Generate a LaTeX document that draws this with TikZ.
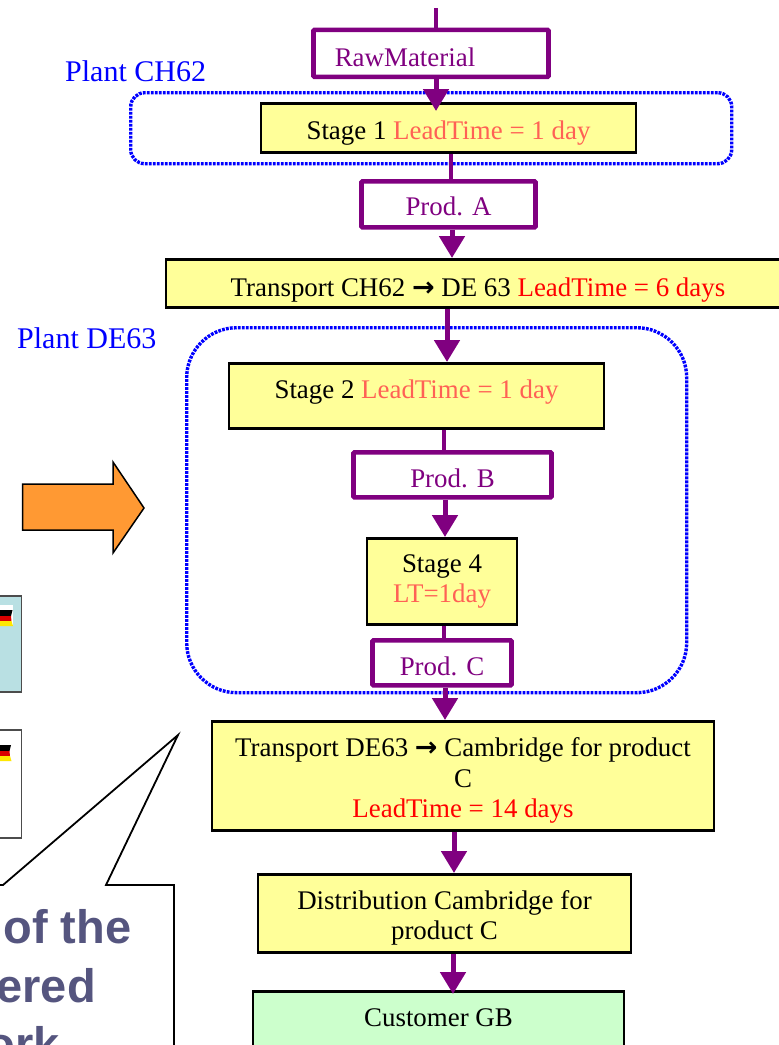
\documentclass[tikz,border=0pt]{standalone}
\usepackage{fontspec}
\setmainfont{Liberation Serif}
\newfontfamily\calloutfont{Liberation Sans}
\newfontfamily\arrowfont{DejaVu Sans}
\usepackage[svgnames]{xcolor}
\usetikzlibrary{positioning, arrows.meta, calc}

\definecolor{stageyellow}{HTML}{FFFF99}
\definecolor{customergreen}{HTML}{CCFFCC}
\definecolor{flowpurple}{HTML}{800080}
\definecolor{leadsalmon}{HTML}{FF6155}
\definecolor{arroworange}{HTML}{FF9933}
\definecolor{panelblue}{HTML}{B9E0E3}
\definecolor{calloutgray}{HTML}{55557F}

\newcommand{\toarrow}{{\arrowfont\bfseries\fontsize{27}{27}\selectfont\raisebox{0.5pt}{→}}}

\tikzset{
    basebox/.style={anchor=north, inner xsep=0pt, inner ysep=0pt, font=\fontsize{26.9}{30.5}\selectfont},
    stagebox/.style={basebox, draw=black, fill=stageyellow, line width=2.6pt},
    prodbox/.style={basebox, draw=flowpurple, fill=white, line width=4.6pt, rounded corners=1pt, text=flowpurple},
    plantbox/.style={draw=blue, line width=3.4pt, dash pattern=on 2.8pt off 1.2pt},
    plantlabel/.style={text=blue, font=\fontsize{30}{34}\selectfont, inner sep=0pt},
    sidebox/.style={draw=black!70, line width=1.5pt, anchor=north east},
    flow/.style={draw=flowpurple, line width=5pt, -{Triangle[length=22pt,width=25pt]}},
    link/.style={draw=flowpurple, line width=4.5pt},
    calloutlabel/.style={text=calloutgray, font=\calloutfont\bfseries\fontsize{47}{47}\selectfont, inner sep=0pt, anchor=base east}
}

\begin{document}
\begin{tikzpicture}[x=1pt, y=-1pt]
    \clip (0,0) rectangle (779,1045);

    \coordinate (start) at (436,8);

    % panels cut off at the left
    \node[sidebox, fill=panelblue, minimum width=60pt, minimum height=96pt] (panelup) at (22,595) {};
    \node[sidebox, fill=white, minimum width=60pt, minimum height=108pt] (paneldown) at (22,729) {};

    % flags
    \fill[white] (0,605) rectangle (13,626);
    \foreach \flagtop/\flagright in {610/12.5,745/11}
    {
        \fill[black] (0,\flagtop) -- (\flagright,\flagtop) -- (\flagright-1.5,\flagtop+6) -- (0,\flagtop+6);
        \fill[red!85!black] (0,\flagtop+6) -- (\flagright-1.5,\flagtop+6) -- (\flagright-1,\flagtop+11) -- (0,\flagtop+11);
        \fill[yellow!90!orange] (0,\flagtop+11) -- (\flagright-1,\flagtop+11) -- (\flagright+0.5,\flagtop+16) -- (0,\flagtop+16);
    }

    % callout
    \draw[black, fill=white, line width=1.8pt]
        (-5,885) -- (3,885) -- (178,735) -- (106,885) -- (174,885) -- (174,1060) -- (-5,1060) -- cycle;
    \node[calloutlabel] (calloutone) at (131.5,943) {of the};
    \node[calloutlabel] (callouttwo) at (96,1002) {ered};
    \node[calloutlabel] (calloutthree) at (60,1060) {ork};

    % orange arrow
    \draw[black, fill=arroworange, line width=1.5pt]
        (22.5,484) -- (113,484) -- (113,462) -- (144,508) -- (113,553) -- (113,530) -- (22.5,530) -- cycle;

    % plants
    \node[plantbox, rounded corners=14pt, minimum width=601pt, minimum height=71pt, anchor=north west] (plantch) at (129,91) {};
    \node[plantbox, rounded corners=50pt, minimum width=500pt, minimum height=365pt, anchor=north west] (plantde) at (185,326) {};
    \node[plantlabel, anchor=west] (labelch) at (65,71) {Plant CH62};
    \node[plantlabel, anchor=west] (labelde) at (17,338) {Plant DE63};

    % steps of the chain
    \node[prodbox, minimum width=235pt, text height=37pt, text depth=10pt] (rawmaterial) at (431,27.5) {RawMaterial\rule{52pt}{0pt}};
    \node[stagebox, minimum width=375pt, text height=36.5pt, text depth=12.5pt] (stageone) at (448.5,102) {Stage 1 \textcolor{leadsalmon}{LeadTime = 1 day}};
    \node[prodbox, minimum width=174pt, text height=34pt, text depth=12pt] (proda) at (448.5,179) {Prod. A};
    \node[stagebox, minimum width=624pt, text height=37.5pt, text depth=10.5pt] (transportch) at (478,258) {Transport CH62 \toarrow{} DE 63 \textcolor{red}{LeadTime = 6 days}};
    \node[stagebox, minimum width=375pt, text height=35.5pt, text depth=29.5pt] (stagetwo) at (416.5,362) {Stage 2 \textcolor{leadsalmon}{LeadTime = 1 day}};
    \node[prodbox, minimum width=198pt, text height=35pt, text depth=10pt] (prodb) at (452.5,450) {Prod. B};
    \node[stagebox, minimum width=150pt, minimum height=86pt, align=center] (stagefour) at (442,537) {Stage 4\\\textcolor{leadsalmon}{LT=1day}};
    \node[prodbox, minimum width=139pt, text height=35pt, text depth=10pt] (prodc) at (442,638) {Prod. C};
    \node[stagebox, minimum width=502pt, minimum height=109pt, align=center] (transportde) at (463,720) {\rule{0pt}{29pt}Transport DE63 \toarrow{} Cambridge for product\\C\\\textcolor{red}{LeadTime = 14 days}};
    \node[stagebox, minimum width=373pt, minimum height=78pt, align=center] (distribution) at (444.5,873) {\rule{0pt}{28pt}Distribution Cambridge for\\product C};
    \node[stagebox, fill=customergreen, minimum width=371pt, text height=35.5pt, text depth=45pt] (customer) at (438.5,990) {Customer GB};

    % connectors
    \draw[link] (start) -- (start |- rawmaterial.north);
    \draw[flow, shorten >=-9pt] ([xshift=5pt]rawmaterial.south) -- ([xshift=5pt]rawmaterial.south |- stageone.north);
    \draw[link] ([xshift=2.5pt]stageone.south) -- ([xshift=2.5pt]proda.north);
    \draw[flow] ([xshift=3.5pt]proda.south) -- ([xshift=3.5pt]proda.south |- transportch.north);
    \draw[flow] ([xshift=-31pt]transportch.south) -- ([xshift=-31pt]transportch.south |- stagetwo.north);
    \draw[link] ([xshift=27.5pt]stagetwo.south) -- ([xshift=27.5pt]stagetwo.south |- prodb.north);
    \draw[flow] ([xshift=-7.5pt]prodb.south) -- ([xshift=-7.5pt]prodb.south |- stagefour.north);
    \draw[link] ([xshift=2pt]stagefour.south) -- ([xshift=2pt]stagefour.south |- prodc.north);
    \draw[flow] ([xshift=3pt]prodc.south) -- ([xshift=3pt]prodc.south |- transportde.north);
    \draw[flow] ([xshift=-9pt]transportde.south) -- ([xshift=-9pt]transportde.south |- distribution.north);
    \draw[flow, shorten >=-4pt] ([xshift=8.5pt]distribution.south) -- ([xshift=8.5pt]distribution.south |- customer.north);
\end{tikzpicture}
\end{document}
